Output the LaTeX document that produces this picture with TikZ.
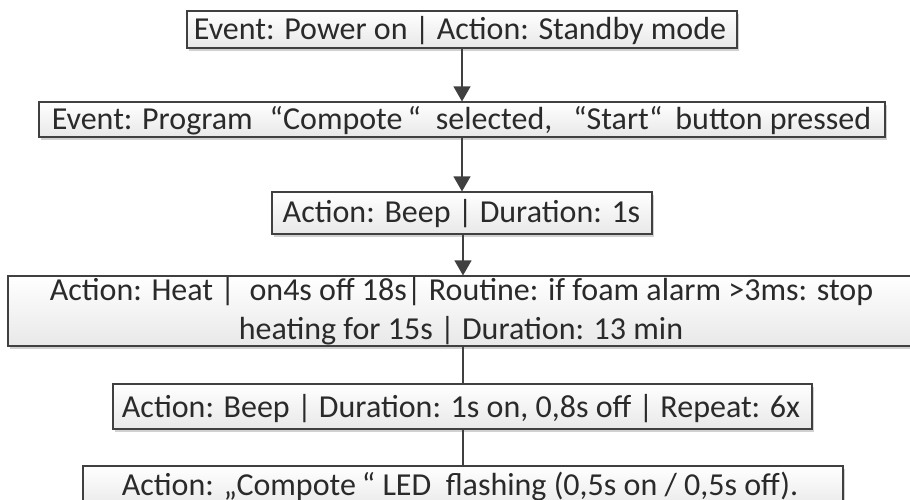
\documentclass[tikz,border=0pt]{standalone}
\usepackage{fontspec}
\setmainfont{Carlito}
\usetikzlibrary{arrows.meta,shadows}
\definecolor{edge}{HTML}{404040}
\definecolor{txt}{HTML}{2A2A2A}
\tikzset{
 box/.style={draw=edge, line width=1.2pt, top color=white, bottom color=black!9,
   drop shadow={shadow xshift=2pt, shadow yshift=-2.5pt, fill=black!30, opacity=0.6},
   inner sep=0pt},
 lbl/.style={anchor=base, inner sep=0pt, font=\fontsize{32}{39}\selectfont, text=txt},
 conn/.style={draw=edge, line width=1.3pt},
 arr/.style={conn, -{Triangle[width=17pt,length=15pt]}}
}
\begin{document}
\begin{tikzpicture}[x=1pt,y=-1pt]
\useasboundingbox (0,0) rectangle (910,499);
% boxes
\node[box, minimum width=550pt, minimum height=37pt] (b1) at (462,29.5) {};
\node[box, minimum width=846pt, minimum height=35pt] (b2) at (462,119.5) {};
\node[box, minimum width=380pt, minimum height=42pt] (b3) at (462,213) {};
\node[box, minimum width=907pt, minimum height=70pt] (b4) at (461.5,311) {};
\node[box, minimum width=699pt, minimum height=45pt] (b5) at (462.5,406.5) {};
\node[box, minimum width=760pt, minimum height=44pt] (b6) at (463,488) {};
% texts
\node[lbl] (t1) at (460,39) {Event: Power on | Action: Standby mode};
\node[lbl] (t2) at (461.5,129.5) {Event: Program\hspace{17pt}“Compote\hspace{5pt}“\hspace{15pt}selected,\hspace{21pt}“Start“\hspace{13pt}button pressed};
\node[lbl] (t3) at (461.5,222) {Action: Beep | Duration: 1s};
\node[lbl] (t4a) at (461.5,300) {Action: Heat |\ \ on4s off 18s| Routine: if foam alarm >3ms: stop};
\node[lbl] (t4b) at (461,339) {heating for 15s | Duration: 13 min};
\node[lbl] (t5) at (461,417) {Action: Beep | Duration: 1s on, 0,8s off | Repeat: 6x};
\node[lbl] (t6) at (460,495) {Action: „Compote\hspace{6pt}“ LED\ \ flashing (0,5s on / 0,5s off).};
% connectors
\coordinate (c1) at (462,0);
\coordinate (c2) at (463,0);
\draw[arr] (b1.south -| c1) -- (b2.north -| c1);
\draw[arr] (b2.south -| c1) -- (b3.north -| c1);
\draw[arr] (b3.south -| c2) -- (b4.north -| c2);
\draw[conn] (b4.south -| c2) -- (b5.north -| c2);
\draw[conn] (b5.south -| c2) -- (b6.north -| c2);
\end{tikzpicture}
\end{document}
